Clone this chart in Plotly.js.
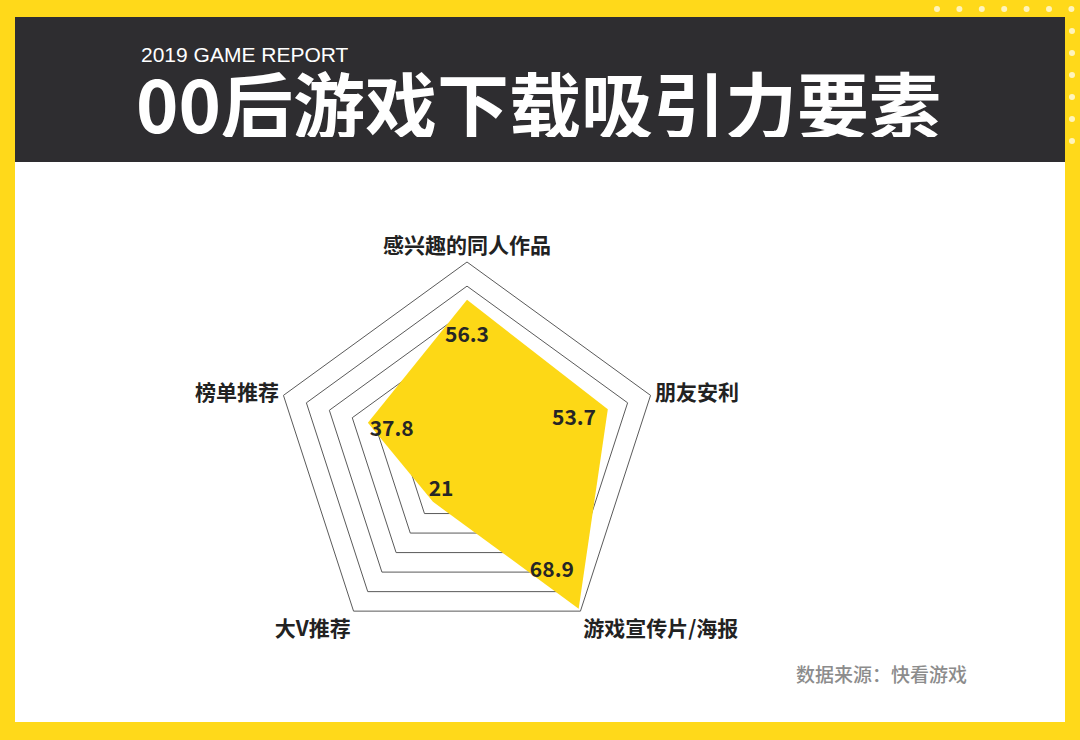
<!DOCTYPE html>
<html>
<head>
<meta charset="utf-8">
<script src="https://cdn.plot.ly/plotly-3.0.1.min.js"></script>
<style>
  html, body { margin: 0; padding: 0; background: #ffd91a; }
  #chart { width: 1080px; height: 740px; }
</style>
</head>
<body>
<div id="chart"></div>
<script>
const categories = ["感兴趣的同人作品", "朋友安利", "游戏宣传片/海报", "大V推荐", "榜单推荐"];
const values = [56.3, 53.7, 68.9, 21, 37.8];
const valueLabels = ["56.3", "53.7", "68.9", "21", "37.8"];

const W = 1080;
const H = 740;
const cjk = "'Noto Sans CJK SC', 'Noto Sans', sans-serif";
const yellow = "#ffd91a";
const dark = "#2e2d30";

// pixel -> paper helpers (margins are zero)
const px = (x) => x / W;
const py = (y) => 1 - y / H;

function rect(x0, y0, x1, y1, color) {
  return {
    type: "rect", xref: "paper", yref: "paper", layer: "below",
    x0: px(x0), x1: px(x1), y0: py(y1), y1: py(y0),
    fillcolor: color, line: { width: 0 },
  };
}

function dot(cx, cy) {
  const r = 3;
  return {
    type: "circle", xref: "paper", yref: "paper", layer: "above",
    x0: px(cx - r), x1: px(cx + r), y0: py(cy + r), y1: py(cy - r),
    fillcolor: "#fff4bd", line: { width: 0 },
  };
}

const shapes = [
  rect(15, 17, 1065, 722, "#ffffff"),
  rect(15, 17, 1065, 162, dark),
];
for (let i = 0; i < 7; i += 1) {
  shapes.push(dot(937 + i * 22.4, 9));
  if (i > 0) shapes.push(dot(1072, 9 + i * 22));
}

// radar placement: centre (467, 455), radius 193 px
const cx = 467;
const cy = 455;
const R = 193;

const closedTheta = categories.concat(categories[0]);
const closedR = values.concat(values[0]);
const labelR = values.map((v) => v * 0.76);

const traces = [
  {
    type: "scatterpolar",
    r: closedR,
    theta: closedTheta,
    mode: "lines",
    fill: "toself",
    fillcolor: "#fdd816",
    line: { width: 0, color: "#fdd816" },
    hoverinfo: "skip",
  },
  {
    type: "scatterpolar",
    r: labelR,
    theta: categories,
    mode: "text",
    text: valueLabels,
    textposition: "middle center",
    textfont: { family: cjk, size: 21, color: "#262626", weight: 700 },
    hoverinfo: "skip",
  },
];

const layout = {
  width: W,
  height: H,
  margin: { t: 0, r: 0, b: 0, l: 0 },
  paper_bgcolor: yellow,
  showlegend: false,
  shapes,
  polar: {
    domain: {
      x: [(cx - R) / W, (cx + R) / W],
      y: [1 - (cy + R) / H, 1 - (cy - R) / H],
    },
    bgcolor: "rgba(0,0,0,0)",
    gridshape: "linear",
    radialaxis: {
      range: [0, 70],
      dtick: 8.75,
      tick0: 0,
      showticklabels: false,
      ticks: "",
      showline: false,
      gridcolor: "#5a5a5a",
      gridwidth: 1,
    },
    angularaxis: {
      rotation: 90,
      direction: "clockwise",
      showgrid: false,
      ticks: "",
      showline: true,
      linecolor: "#5a5a5a",
      linewidth: 1,
      tickfont: { family: cjk, size: 21, color: "#222222", weight: 700 },
    },
  },
  annotations: [
    {
      text: "2019 GAME REPORT",
      xref: "paper", yref: "paper", x: px(139), y: py(54),
      xanchor: "left", yanchor: "middle", showarrow: false, height: 24,
      font: { family: "'Liberation Sans', Arial, sans-serif", size: 21, color: "#ffffff" },
    },
    {
      text: "00后游戏下载吸引力要素",
      xref: "paper", yref: "paper", x: px(134), y: py(101),
      xanchor: "left", yanchor: "middle", showarrow: false, height: 72,
      font: { family: cjk, size: 72, color: "#ffffff", weight: 700 },
    },
    {
      text: "数据来源：快看游戏",
      xref: "paper", yref: "paper", x: px(969), y: py(673),
      xanchor: "right", yanchor: "middle", showarrow: false,
      font: { family: cjk, size: 19, color: "#8c8c8c", weight: 500 },
    },
  ],
};

Plotly.newPlot("chart", traces, layout, { displayModeBar: false, staticPlot: true });
</script>
</body>
</html>
